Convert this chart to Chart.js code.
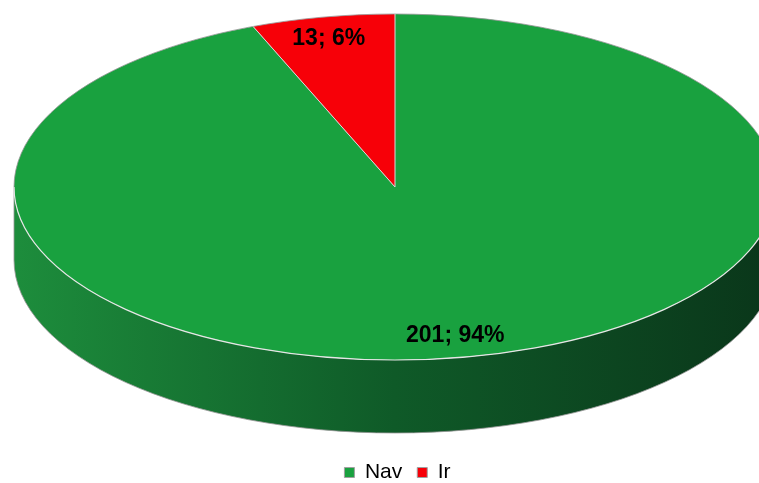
<!DOCTYPE html>
<html>
<head>
<meta charset="utf-8">
<script src="https://cdn.jsdelivr.net/npm/chart.js@4.4.1/dist/chart.umd.min.js"></script>
<style>
  html, body { margin: 0; padding: 0; background: #fff; }
  #wrap { width: 759px; height: 483px; }
</style>
</head>
<body>
<div id="wrap"><canvas id="pie3d"></canvas></div>
<script>
const categories = ['Nav', 'Ir'];
const counts = [201, 13];
const percents = [94, 6];

const sliceColors = ['#19a13f', '#f70008'];
const sideStops = [['#1d8d3c', '#0f5a28', '#0a361a'], ['#b00006', '#8a0005', '#600003']];

// where the flattened pie sits on the canvas
const CX = 395, CY = 187, RX = 381, RY = 173, DEPTH = 73;
const FONT = '"Liberation Sans", Arial, sans-serif';

function frontParts(start, end) {
    const parts = [];
    for (const k of [-2 * Math.PI, 0, 2 * Math.PI]) {
        const lo = Math.max(start, k), hi = Math.min(end, k + Math.PI);
        if (hi > lo) parts.push([lo, hi]);
    }
    return parts;
}

const pie3d = {
    id: 'pie3d',
    beforeDatasetsDraw(chart) {
        const ctx = chart.ctx;
        const arcs = chart.getDatasetMeta(0).data;
        // side wall, only the front half is visible
        arcs.forEach((arc, i) => {
            frontParts(arc.startAngle, arc.endAngle).forEach(([lo, hi]) => {
                const g = ctx.createLinearGradient(CX - RX, 0, CX + RX, 0);
                g.addColorStop(0, sideStops[i][0]);
                g.addColorStop(0.5, sideStops[i][1]);
                g.addColorStop(1, sideStops[i][2]);
                ctx.beginPath();
                ctx.ellipse(CX, CY, RX, RY, 0, lo, hi);
                ctx.ellipse(CX, CY + DEPTH, RX, RY, 0, hi, lo, true);
                ctx.closePath();
                ctx.fillStyle = g;
                ctx.fill();
                ctx.strokeStyle = 'rgba(150,150,150,0.8)';
                ctx.lineWidth = 1;
                ctx.beginPath();
                ctx.ellipse(CX, CY + DEPTH, RX, RY, 0, lo, hi);
                ctx.stroke();
            });
        });
        ctx.save();
        const arc = arcs[0];
        ctx.translate(CX, CY);
        ctx.scale(RX / arc.outerRadius, RY / arc.outerRadius);
        ctx.translate(-arc.x, -arc.y);
    },
    afterDatasetsDraw(chart) {
        const ctx = chart.ctx;
        ctx.restore();
        const arcs = chart.getDatasetMeta(0).data;
        // rim of the top face
        ctx.strokeStyle = 'rgba(150,150,150,0.8)';
        ctx.lineWidth = 1;
        ctx.beginPath();
        ctx.ellipse(CX, CY, RX, RY, 0, Math.PI, 2 * Math.PI);
        ctx.stroke();
        ctx.beginPath();
        ctx.moveTo(CX - RX, CY);
        ctx.lineTo(CX - RX, CY + DEPTH);
        ctx.moveTo(CX + RX, CY);
        ctx.lineTo(CX + RX, CY + DEPTH);
        ctx.stroke();
        ctx.strokeStyle = '#e6e6e6';
        ctx.lineWidth = 1.2;
        ctx.beginPath();
        ctx.ellipse(CX, CY, RX, RY, 0, 0, Math.PI);
        ctx.stroke();
        // slice edges
        ctx.strokeStyle = '#dadada';
        ctx.lineWidth = 1;
        arcs.forEach(arc => {
            ctx.beginPath();
            ctx.moveTo(CX, CY);
            ctx.lineTo(CX + RX * Math.cos(arc.startAngle), CY + RY * Math.sin(arc.startAngle));
            ctx.stroke();
        });
        // value labels
        ctx.fillStyle = '#000';
        ctx.font = 'bold 23px ' + FONT;
        ctx.textAlign = 'center';
        ctx.textBaseline = 'middle';
        arcs.forEach((arc, i) => {
            const mid = (arc.startAngle + arc.endAngle) / 2;
            const r = 0.875;
            ctx.fillText(counts[i] + '; ' + percents[i] + '%',
                CX - 3 + RX * r * Math.cos(mid), CY + RY * r * Math.sin(mid));
        });
    }
};

new Chart(document.getElementById('pie3d'), {
    type: 'pie',
    data: {
        labels: categories,
        datasets: [{
            data: counts,
            backgroundColor: sliceColors,
            borderWidth: 0,
            clip: false
        }]
    },
    options: {
        responsive: true,
        maintainAspectRatio: false,
        animation: false,
        events: [],
        layout: { padding: { left: 36, bottom: -10 } },
        plugins: {
            tooltip: { enabled: false },
            legend: {
                position: 'bottom',
                labels: {
                    boxWidth: 10,
                    boxHeight: 10,
                    padding: 15,
                    color: '#404040',
                    font: { family: FONT, size: 21 },
                    generateLabels: () => categories.map((c, i) => ({
                        text: c, fillStyle: sliceColors[i], strokeStyle: '#a0a0a0',
                        lineWidth: 1, index: i, hidden: false
                    }))
                }
            }
        }
    },
    plugins: [pie3d]
});
</script>
</body>
</html>
